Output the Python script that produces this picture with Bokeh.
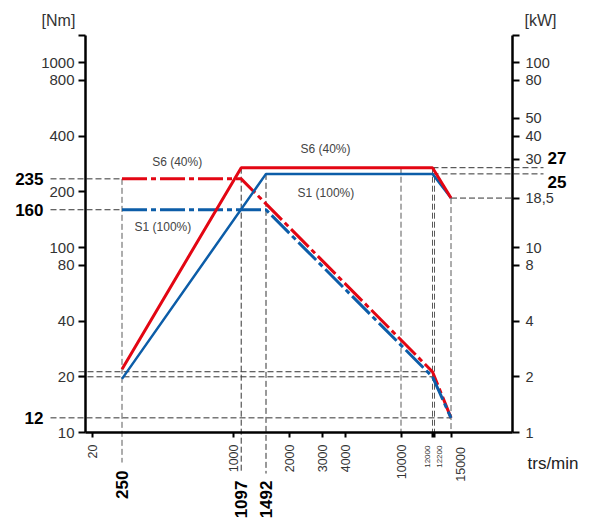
import numpy as np
from math import pi
from bokeh.plotting import figure
from bokeh.models import Range1d, LogScale, LogAxis, FixedTicker, Label
from bokeh.embed import file_html
from bokeh.resources import INLINE

# ---------------- data ----------------
speed_s6 = [250, 1097, 12000, 15000]        # trs/min
torque_s6 = [235, 235, 21.3, 12]            # Nm
power_s6 = [2.2, 27, 27, 18.5]              # kW
speed_s1 = [250, 1492, 12000, 15000]
torque_s1 = [160, 160, 20, 12]
power_s1 = [1.95, 25, 25, 18.5]

speed_ticks = [20, 1000, 2000, 3000, 4000, 10000, 12000, 12200, 15000]
speed_small = [12000, 12200]
torque_ticks = [10, 20, 40, 80, 100, 200, 400, 800, 1000]
power_ticks = [1, 2, 4, 8, 10, 18.5, 30, 40, 50, 80, 100]
power_tick_labels = ["1", "2", "4", "8", "10", "18,5", "30", "40", "50", "80", "100"]

mark_torque = [235, 160, 12]
mark_power = [27, 25]
mark_speed = [250, 1097, 1492]

labels_text = ["S6 (40%)", "S1 (100%)", "S6 (40%)", "S1 (100%)"]

# ---------------- axis scales ----------------
# non-uniform (schematic) speed axis: knots of the scale
AXIS_RPM = [20, 250, 4000, 10000, 12000, 12200, 15000]
AXIS_POS = [7.3, 36.5, 260.0, 315.5, 347.0, 349.0, 365.5]
X_AXIS_END = 427.0
NM_AXIS = (10, 1400)
KW_AXIS = (1, 140)
KW2NM = NM_AXIS[0] / KW_AXIS[0]

W, H = 592, 521
PX_LEFT, PX_BOTTOM, PX_PER_DEC = 85, 432, 185.0
X_VIEW = (-PX_LEFT, W - PX_LEFT)
NM_VIEW = (10 ** (1 - (H - PX_BOTTOM) / PX_PER_DEC), 10 ** (1 + PX_BOTTOM / PX_PER_DEC))
KW_VIEW = (NM_VIEW[0] / KW2NM, NM_VIEW[1] / KW2NM)


def sp(v):
    return [round(float(np.interp(np.log10(x), np.log10(AXIS_RPM), AXIS_POS)), 2)
            for x in np.atleast_1d(v)]


def sp1(v):
    return sp(v)[0]


RED = "#e30613"
BLUE = "#0c5da8"
FONT = "Liberation Sans"

p = figure(width=W, height=H, x_range=Range1d(*X_VIEW),
           y_range=Range1d(*NM_VIEW), y_axis_type="log", title=None,
           output_backend="svg", toolbar_location=None, min_border=0,
           min_border_left=0, min_border_right=0, min_border_top=0, min_border_bottom=0)
p.extra_y_ranges = {"kw": Range1d(*KW_VIEW)}
p.extra_y_scales = {"kw": LogScale()}
p.grid.visible = False
p.outline_line_color = None
p.background_fill_color = "white"
p.border_fill_color = "white"


def style(ax, size, out):
    ax.axis_line_width = 2.5
    ax.axis_line_color = "black"
    ax.major_tick_line_width = 2
    ax.major_tick_line_color = "black"
    ax.major_tick_out = out
    ax.major_tick_in = 0
    ax.minor_tick_out = 0
    ax.minor_tick_in = 0
    ax.major_label_text_font = FONT
    ax.major_label_text_font_size = size
    ax.major_label_text_color = "#333333"


# left axis (Nm)
ly = p.yaxis[0]
ly.fixed_location = 0
ly.bounds = NM_AXIS
ly.ticker = FixedTicker(ticks=torque_ticks + [NM_AXIS[1]], minor_ticks=[])
ov = {t: str(t) for t in torque_ticks}
ov[NM_AXIS[1]] = ""
ly.major_label_overrides = ov
style(ly, "15px", 7)
ly.major_label_standoff = 4

# right axis (kW)
ry = LogAxis(y_range_name="kw", fixed_location=X_AXIS_END, bounds=KW_AXIS)
ry.ticker = FixedTicker(ticks=power_ticks + [KW_AXIS[1]], minor_ticks=[])
ov = dict(zip(power_ticks, power_tick_labels))
ov[KW_AXIS[1]] = ""
ry.major_label_overrides = ov
style(ry, "14.5px", 7)
ry.major_label_standoff = 6
p.add_layout(ry, "right")

# bottom axis (trs/min)
bx = p.xaxis[0]
bx.fixed_location = NM_AXIS[0]
bx.bounds = (0, X_AXIS_END)
tick_pos = sp(speed_ticks)
bx.ticker = FixedTicker(ticks=tick_pos, minor_ticks=[])
bx.major_label_overrides = {pos: ("" if (t in speed_small or t == 15000) else str(t))
                            for pos, t in zip(tick_pos, speed_ticks)}
bx.major_label_orientation = pi / 2
style(bx, "12.5px", 5)
bx.major_label_standoff = 7

# ---------------- guide lines ----------------
xl_far, xl_near, xr_far = -35, -7, 458
y_below_a, y_below_b = 6.88, 6.0
HC, VC = "#333333", "#5a5a5a"
# horizontal, torque axis
hx0 = [xl_far, xl_far, xl_near, xl_near, xl_far]
hx1 = [sp1(speed_s6[0]), sp1(speed_s1[0]), sp1(speed_s6[2]), sp1(speed_s1[2]), sp1(speed_s1[3])]
hy = [torque_s6[0], torque_s1[0], torque_s6[2], torque_s1[2], torque_s1[3]]
p.segment(hx0, hy, hx1, hy, line_color=HC, line_width=1, line_dash="6 3")
# horizontal, power axis
kx0 = [sp1(speed_s6[2]), sp1(speed_s1[2]), sp1(speed_s6[3])]
kx1 = [xr_far, xr_far, X_AXIS_END]
ky = [power_s6[2], power_s1[2], power_s6[3]]
p.segment(kx0, ky, kx1, ky, line_color=HC, line_width=1, line_dash="6 3", y_range_name="kw")
# vertical
vx = sp([250, 10000, 12000, 12200, 15000])
vy0 = [torque_s6[0], power_s6[1] * KW2NM, power_s6[1] * KW2NM, power_s6[1] * KW2NM,
       power_s6[3] * KW2NM]
vy1 = [y_below_a, NM_AXIS[0], NM_AXIS[0], NM_AXIS[0], NM_AXIS[0]]
p.segment(vx, vy0, vx, vy1, line_color=VC, line_width=1, line_dash="6 3")
vx2 = sp([1097, 1492])
p.segment(vx2, [power_s6[1] * KW2NM, power_s1[1] * KW2NM], vx2, [y_below_b, y_below_b],
          line_color=HC, line_width=1, line_dash="6 3")

# ---------------- curves ----------------
DASH = "25 4 5 4"
p.line(sp(speed_s6), torque_s6, line_color=RED, line_width=3, line_dash=DASH)
p.line(sp(speed_s1), torque_s1, line_color=BLUE, line_width=3, line_dash=DASH)
p.line(sp(speed_s1), power_s1, line_color=BLUE, line_width=2.5, y_range_name="kw")
p.line(sp(speed_s6), power_s6, line_color=RED, line_width=3, y_range_name="kw")


# ---------------- texts ----------------
def lab(x, y, text, size, color="#333333", bold=False, align="center",
        baseline="middle", angle=0.0, rng="default"):
    p.add_layout(Label(x=x, y=y, text=text, text_font=FONT, text_font_size=size,
                       text_color=color, text_font_style="bold" if bold else "normal",
                       text_align=align, text_baseline=baseline, angle=angle,
                       y_range_name=rng))


# curve names
lab(91.7, 291.6, labels_text[0], "12px", "#444444")
lab(77.4, 128.9, labels_text[1], "12px", "#444444")
lab(240.0, 339.0, labels_text[2], "12px", "#444444")
lab(240.4, 196.6, labels_text[3], "12px", "#444444")

# axis titles
lab(-27, 1690, "[Nm]", "16px")
lab(455, 169, "[kW]", "16px", rng="kw")
lab(467.5, 6.8, "trs/min", "17px", "#222222")

# bold marks
for t in mark_torque:
    lab(-42, t, str(t), "17px", "black", bold=True, align="right")
lab(462, 30.3, str(mark_power[0]), "17px", "black", bold=True, align="left", rng="kw")
lab(462, 22.5, str(mark_power[1]), "17px", "black", bold=True, align="left", rng="kw")

lab(sp1(mark_speed[0]), 6.23, str(mark_speed[0]), "17px", "black", bold=True,
    align="right", angle=pi / 2)
for s in mark_speed[1:]:
    lab(sp1(s), 5.5, str(s), "17px", "black", bold=True, align="right", angle=pi / 2)

# small speed tick labels
lab(sp1(12000) - 5, 8.5, "12000", "8px", "#333333", align="right", angle=pi / 2)
lab(sp1(12200) + 5, 8.5, "12200", "8px", "#333333", align="right", angle=pi / 2)
lab(sp1(15000) + 9.5, 8.35, "15000", "12.5px", "#333333", align="right", angle=pi / 2)

open("out.html", "w").write(file_html(p, INLINE))
